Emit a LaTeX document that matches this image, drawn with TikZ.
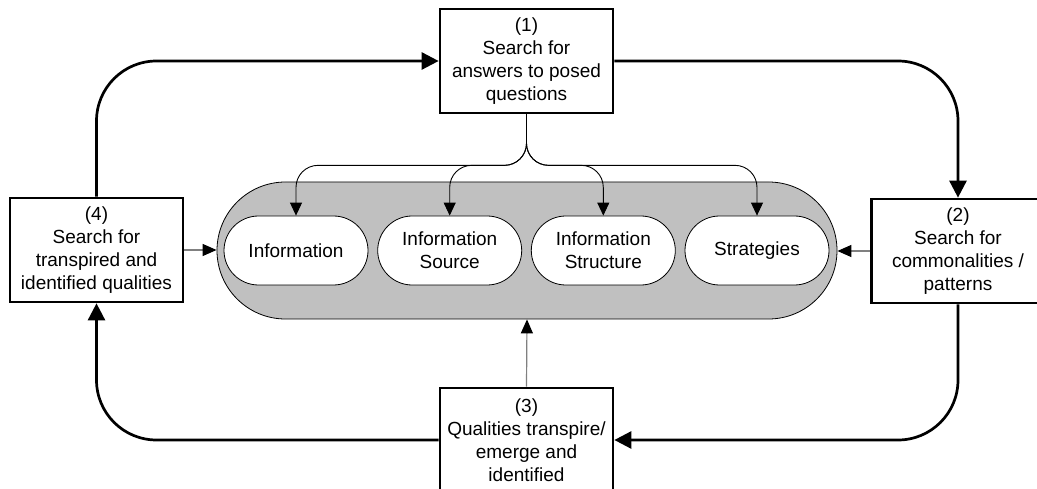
\documentclass[tikz,border=0pt]{standalone}
\usepackage{fontspec}
\setmainfont{Liberation Sans}
\usetikzlibrary{shapes.misc,arrows.meta}
\definecolor{boxgray}{HTML}{C0C0C0}
\definecolor{feedgray}{HTML}{808080}
\begin{document}
\begin{tikzpicture}[x=1pt,y=-1pt,
  every node/.style={font=\fontsize{19}{23}\selectfont, align=center, inner sep=0pt},
  stepbox/.style={draw, line width=2.7pt, fill=white, minimum width=173pt, minimum height=104pt},
  pillout/.style={draw, line width=0.8pt, fill=boxgray, rounded rectangle, minimum width=620pt, minimum height=137pt},
  pillin/.style={draw, line width=0.8pt, fill=white, rounded rectangle, minimum width=144pt, minimum height=69pt},
  loopline/.style={line width=2.7pt, rounded corners=60pt, -{Triangle[length=17pt,width=17pt]}},
  branch/.style={line width=0.9pt, rounded corners=22pt, -{Triangle[length=13pt,width=12pt]}},
  feed/.style={line width=1.2pt, draw=feedgray, -{Triangle[length=14pt,width=12pt,color=black]}}
]
\useasboundingbox (0,0) rectangle (1037,489);
\clip (0,0) rectangle (1037,489);

% central group of categories
\node[pillout] (hub) at (527,250.5) {};
\node[pillin] (p1) at (296,250.5) {Information};
\node[pillin] (p2) at (449.7,250.5) {Information\\Source};
\node[pillin] (p3) at (603.3,250.5) {Information\\Structure};
\node[pillin] (p4) at (757,250.5) {Strategies};

% the four search steps
\node[stepbox] (s1) at (526.5,61) {(1)\\Search for\\answers to posed\\questions};
\node[stepbox] (s2) at (958,251) {(2)\\Search for\\commonalities /\\patterns};
\node[stepbox] (s3) at (526.5,440) {(3)\\Qualities transpire/\\emerge and\\identified};
\node[stepbox] (s4) at (96.5,250) {(4)\\Search for\\transpired and\\identified qualities};

% step 1 fans out into every category
\foreach \p in {p1,p2,p3,p4}
  \draw[branch] (s1.south) -- ++(0,51) -| (\p.north);

% the other steps feed the group
\draw[feed] (s4.east) -- (s4.east -| hub.west);
\draw[feed] (s2.west) -- (s2.west -| hub.east);
\draw[feed] (s3.north) -- (hub.south);

% outer cycle 1 -> 2 -> 3 -> 4 -> 1
\draw[loopline] (s4.north) |- (s1.west);
\draw[loopline] (s1.east) -| (s2.north);
\draw[loopline] (s2.south) |- (s3.east);
\draw[loopline] (s3.west) -| (s4.south);
\end{tikzpicture}
\end{document}
